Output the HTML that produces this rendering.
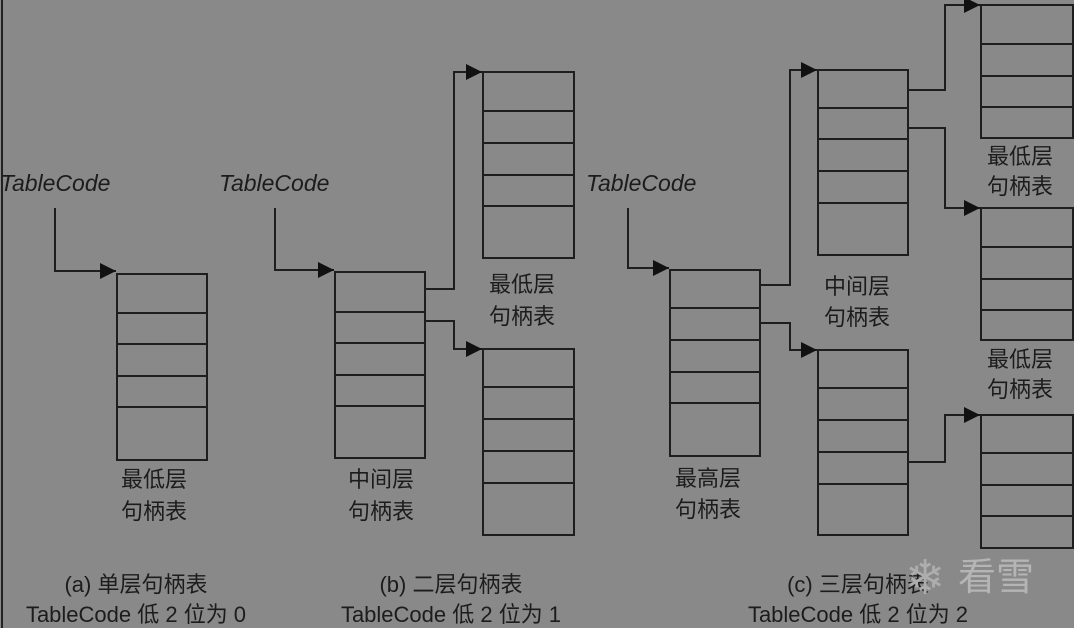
<!DOCTYPE html>
<html><head><meta charset="utf-8"><style>
html,body{margin:0;padding:0;background:#898989;}
svg{display:block}
text{font-family:"Liberation Sans","Noto Sans CJK SC",sans-serif;fill:#1c1c1c;}
</style></head><body>
<svg width="1074" height="628" viewBox="0 0 1074 628" xmlns="http://www.w3.org/2000/svg">
<defs><marker id="a" viewBox="0 0 10 10" refX="10" refY="5" markerWidth="16" markerHeight="16" markerUnits="userSpaceOnUse" orient="auto"><path d="M0,0L10,5L0,10z" fill="#111"/></marker></defs>
<rect width="1074" height="628" fill="#898989"/>
<line x1="2" y1="0" x2="2" y2="628" stroke="#222" stroke-width="2"/>
<g fill="none" stroke="#1e1e1e" stroke-width="2">
<rect x="117" y="274" width="90" height="186"/><path d="M117 313H207M117 344H207M117 376H207M117 407H207"/>
<rect x="335" y="272" width="90" height="186"/><path d="M335 312H425M335 343H425M335 375H425M335 406H425"/>
<rect x="483" y="72" width="91" height="186"/><path d="M483 111H574M483 143H574M483 175H574M483 206H574"/>
<rect x="483" y="349" width="91" height="186"/><path d="M483 387H574M483 419H574M483 451H574M483 483H574"/>
<rect x="670" y="270" width="90" height="186"/><path d="M670 308H760M670 340H760M670 372H760M670 403H760"/>
<rect x="818" y="70" width="90" height="185"/><path d="M818 108H908M818 139H908M818 171H908M818 203H908"/>
<rect x="818" y="350" width="90" height="185"/><path d="M818 388H908M818 420H908M818 452H908M818 484H908"/>
<rect x="981" y="5" width="92" height="133"/><path d="M981 44H1073M981 76H1073M981 107H1073"/>
<rect x="981" y="208" width="92" height="132"/><path d="M981 247H1073M981 279H1073M981 310H1073"/>
<rect x="981" y="415" width="92" height="133"/><path d="M981 453H1073M981 485H1073M981 516H1073"/>
<path d="M55 208V271H116" marker-end="url(#a)"/>
<path d="M275 208V270H334" marker-end="url(#a)"/>
<path d="M425 289H454V72H482" marker-end="url(#a)"/>
<path d="M425 321H454V349H482" marker-end="url(#a)"/>
<path d="M628 208V268H669" marker-end="url(#a)"/>
<path d="M760 285H790V70H817" marker-end="url(#a)"/>
<path d="M760 323H790V350H817" marker-end="url(#a)"/>
<path d="M908 90H945V5H980" marker-end="url(#a)"/>
<path d="M908 128H945V208H980" marker-end="url(#a)"/>
<path d="M908 462H945V415H980" marker-end="url(#a)"/>
</g>
<g font-size="23" font-style="italic">
<text x="0" y="191">TableCode</text>
<text x="219" y="191">TableCode</text>
<text x="586" y="191">TableCode</text>
</g>
<g font-size="22" text-anchor="middle">
<text x="154" y="487">最低层</text><text x="154" y="519">句柄表</text>
<text x="381" y="487">中间层</text><text x="381" y="519">句柄表</text>
<text x="522" y="292">最低层</text><text x="522" y="324">句柄表</text>
<text x="708" y="486">最高层</text><text x="708" y="517">句柄表</text>
<text x="857" y="294">中间层</text><text x="857" y="325">句柄表</text>
<text x="1020" y="164">最低层</text><text x="1020" y="194">句柄表</text>
<text x="1020" y="367">最低层</text><text x="1020" y="397">句柄表</text>
<text x="136" y="592">(a) 单层句柄表</text><text x="136" y="622">TableCode 低 2 位为 0</text>
<text x="451" y="592">(b) 二层句柄表</text><text x="451" y="622">TableCode 低 2 位为 1</text>
<text x="858" y="592">(c) 三层句柄表</text><text x="858" y="622">TableCode 低 2 位为 2</text>
</g>
<text x="958" y="590" font-size="38" style="fill:#b5b5b5">看雪</text>
<text x="905" y="594" font-size="48" style="fill:#adadad">❄</text>
</svg>
</body></html>
